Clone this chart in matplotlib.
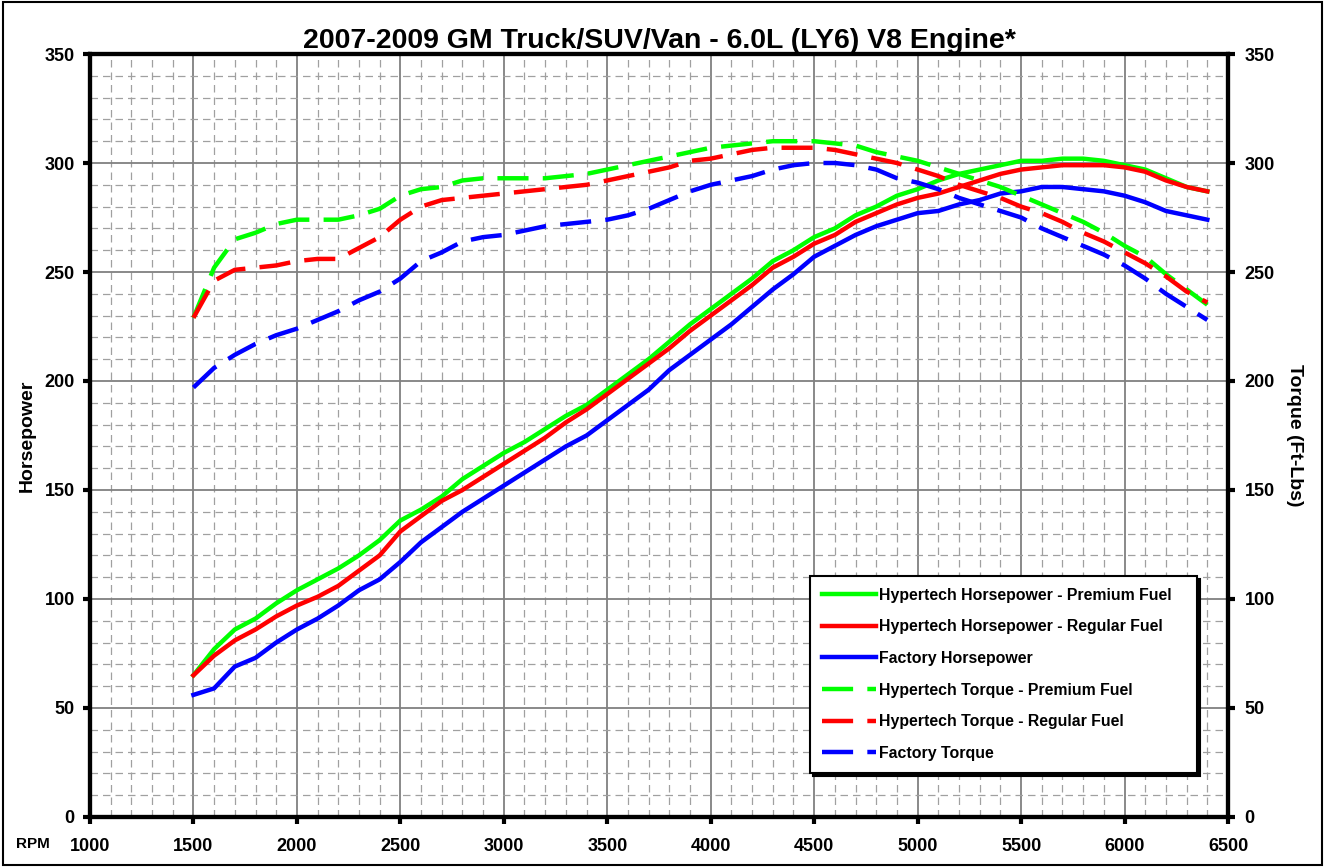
import matplotlib
matplotlib.use('Agg')
import matplotlib.pyplot as plt
from matplotlib.patches import Rectangle
from matplotlib.ticker import MultipleLocator

plt.rcParams['font.family'] = ['Liberation Sans', 'DejaVu Sans']
plt.rcParams['font.weight'] = 'bold'

# ----------------------------------------------
rpm = list(range(1500, 6500, 100))

hp_premium = [65, 77, 86, 91, 98, 104, 109, 114, 120, 127,
              136, 141, 147, 155, 161, 167, 172, 178, 184, 189,
              196, 203, 210, 218, 226, 233, 240, 247, 255, 260,
              266, 270, 276, 280, 285, 288, 292, 295, 297, 299,
              301, 301, 302, 302, 301, 299, 297, 293, 289, 287]
hp_regular = [65, 74, 81, 86, 92, 97, 101, 106, 113, 120,
              131, 138, 145, 150, 156, 162, 168, 174, 181, 187,
              194, 201, 208, 215, 223, 230, 237, 244, 252, 257,
              263, 267, 273, 277, 281, 284, 286, 289, 292, 295,
              297, 298, 299, 299, 299, 298, 296, 292, 289, 287]
hp_factory = [56, 59, 69, 73, 80, 86, 91, 97, 104, 109,
              117, 126, 133, 140, 146, 152, 158, 164, 170, 175,
              182, 189, 196, 205, 212, 219, 226, 234, 242, 249,
              257, 262, 267, 271, 274, 277, 278, 281, 283, 286,
              287, 289, 289, 288, 287, 285, 282, 278, 276, 274]
tq_premium = [229, 252, 265, 268, 272, 274, 274, 274, 276, 279,
              285, 288, 289, 292, 293, 293, 293, 293, 294, 295,
              297, 299, 301, 303, 305, 307, 308, 309, 310, 310,
              310, 309, 308, 305, 303, 301, 298, 295, 292, 289,
              285, 281, 277, 273, 268, 262, 257, 249, 242, 235]
tq_regular = [229, 246, 251, 252, 253, 255, 256, 256, 261, 266,
              274, 280, 283, 284, 285, 286, 287, 288, 289, 290,
              292, 294, 296, 298, 301, 302, 304, 306, 307, 307,
              307, 306, 304, 302, 300, 297, 294, 290, 287, 284,
              280, 277, 273, 268, 264, 259, 254, 248, 241, 236]
tq_factory = [197, 206, 212, 217, 221, 224, 228, 232, 237, 241,
              247, 255, 259, 264, 266, 267, 269, 271, 272, 273,
              274, 276, 279, 283, 287, 290, 292, 294, 297, 299,
              300, 300, 299, 297, 293, 291, 288, 284, 281, 278,
              275, 270, 266, 262, 258, 253, 247, 240, 234, 228]

labels = ['Hypertech Horsepower - Premium Fuel',
          'Hypertech Horsepower - Regular Fuel',
          'Factory Horsepower',
          'Hypertech Torque - Premium Fuel',
          'Hypertech Torque - Regular Fuel',
          'Factory Torque']

# ----------------------------------------------
fig = plt.figure(figsize=(13.25, 8.67), dpi=100)
ax = fig.add_axes([0.0679, 0.0577, 0.8589, 0.880])
fig.patches.append(Rectangle((0.002, 0.002), 0.996, 0.996, transform=fig.transFigure,
                             fill=False, edgecolor='black', lw=1.5))

green, red, blue = '#00ff00', '#ff0000', '#0000ff'
lw = 3.2
dash = (7, 3.2)
ax.plot(rpm, hp_premium, color=green, lw=lw, label=labels[0], zorder=5)
ax.plot(rpm, hp_regular, color=red, lw=lw, label=labels[1], zorder=5)
ax.plot(rpm, hp_factory, color=blue, lw=lw, label=labels[2], zorder=5)
ax.plot(rpm, tq_premium, color=green, lw=lw, dashes=dash, label=labels[3], zorder=5)
ax.plot(rpm, tq_regular, color=red, lw=lw, dashes=dash, label=labels[4], zorder=5)
ax.plot(rpm, tq_factory, color=blue, lw=lw, dashes=dash, label=labels[5], zorder=5)

ax.set_xlim(1000, 6500)
ax.set_ylim(0, 350)
ax.xaxis.set_major_locator(MultipleLocator(500))
ax.xaxis.set_minor_locator(MultipleLocator(100))
ax.yaxis.set_major_locator(MultipleLocator(50))
ax.yaxis.set_minor_locator(MultipleLocator(10))
ax.grid(which='major', color='#808080', lw=1.3, zorder=0)
ax.grid(which='minor', color='#a0a0a0', lw=0.9, linestyle=(0, (6, 4)), zorder=0)
ax.set_axisbelow(True)
for s in ax.spines.values():
    s.set_linewidth(3)
ax.tick_params(which='major', direction='out', length=5, width=3, labelsize=13, pad=6)
ax.tick_params(axis='x', which='major', pad=10)
ax.tick_params(which='minor', length=0)
for t in ax.get_xticklabels() + ax.get_yticklabels():
    t.set_fontweight('bold')

ax2 = ax.twinx()
ax2.set_ylim(0, 350)
ax2.yaxis.set_major_locator(MultipleLocator(50))
ax2.tick_params(direction='out', length=5, width=3, labelsize=13, pad=7)
for t in ax2.get_yticklabels():
    t.set_fontweight('bold')
for s in ax2.spines.values():
    s.set_linewidth(3)

ax.set_ylabel('Horsepower', fontsize=14, fontweight='bold', labelpad=6)
ax2.set_ylabel('Torque (Ft-Lbs)', fontsize=14, fontweight='bold', rotation=270, labelpad=20)
ax.set_title('2007-2009 GM Truck/SUV/Van - 6.0L (LY6) V8 Engine*', fontsize=20.5,
             fontweight='bold', pad=3)
fig.text(0.025, 0.027, 'RPM', fontsize=11, fontweight='bold', ha='center', va='center')

leg = ax.legend(loc='lower left', bbox_to_anchor=(0.633, 0.058, 0.34, 0.242), mode='expand',
                fontsize=11.4, frameon=True, fancybox=False, shadow={'color': 'black', 'alpha': 1},
                framealpha=1, edgecolor='black', handlelength=3.4, handletextpad=0.2,
                labelspacing=1.05, borderaxespad=0, borderpad=0.75)
leg.get_frame().set_linewidth(1.5)
for t in leg.get_texts():
    t.set_fontweight('bold')
leg.set_zorder(10)

fig.savefig('out.png', dpi=100)
